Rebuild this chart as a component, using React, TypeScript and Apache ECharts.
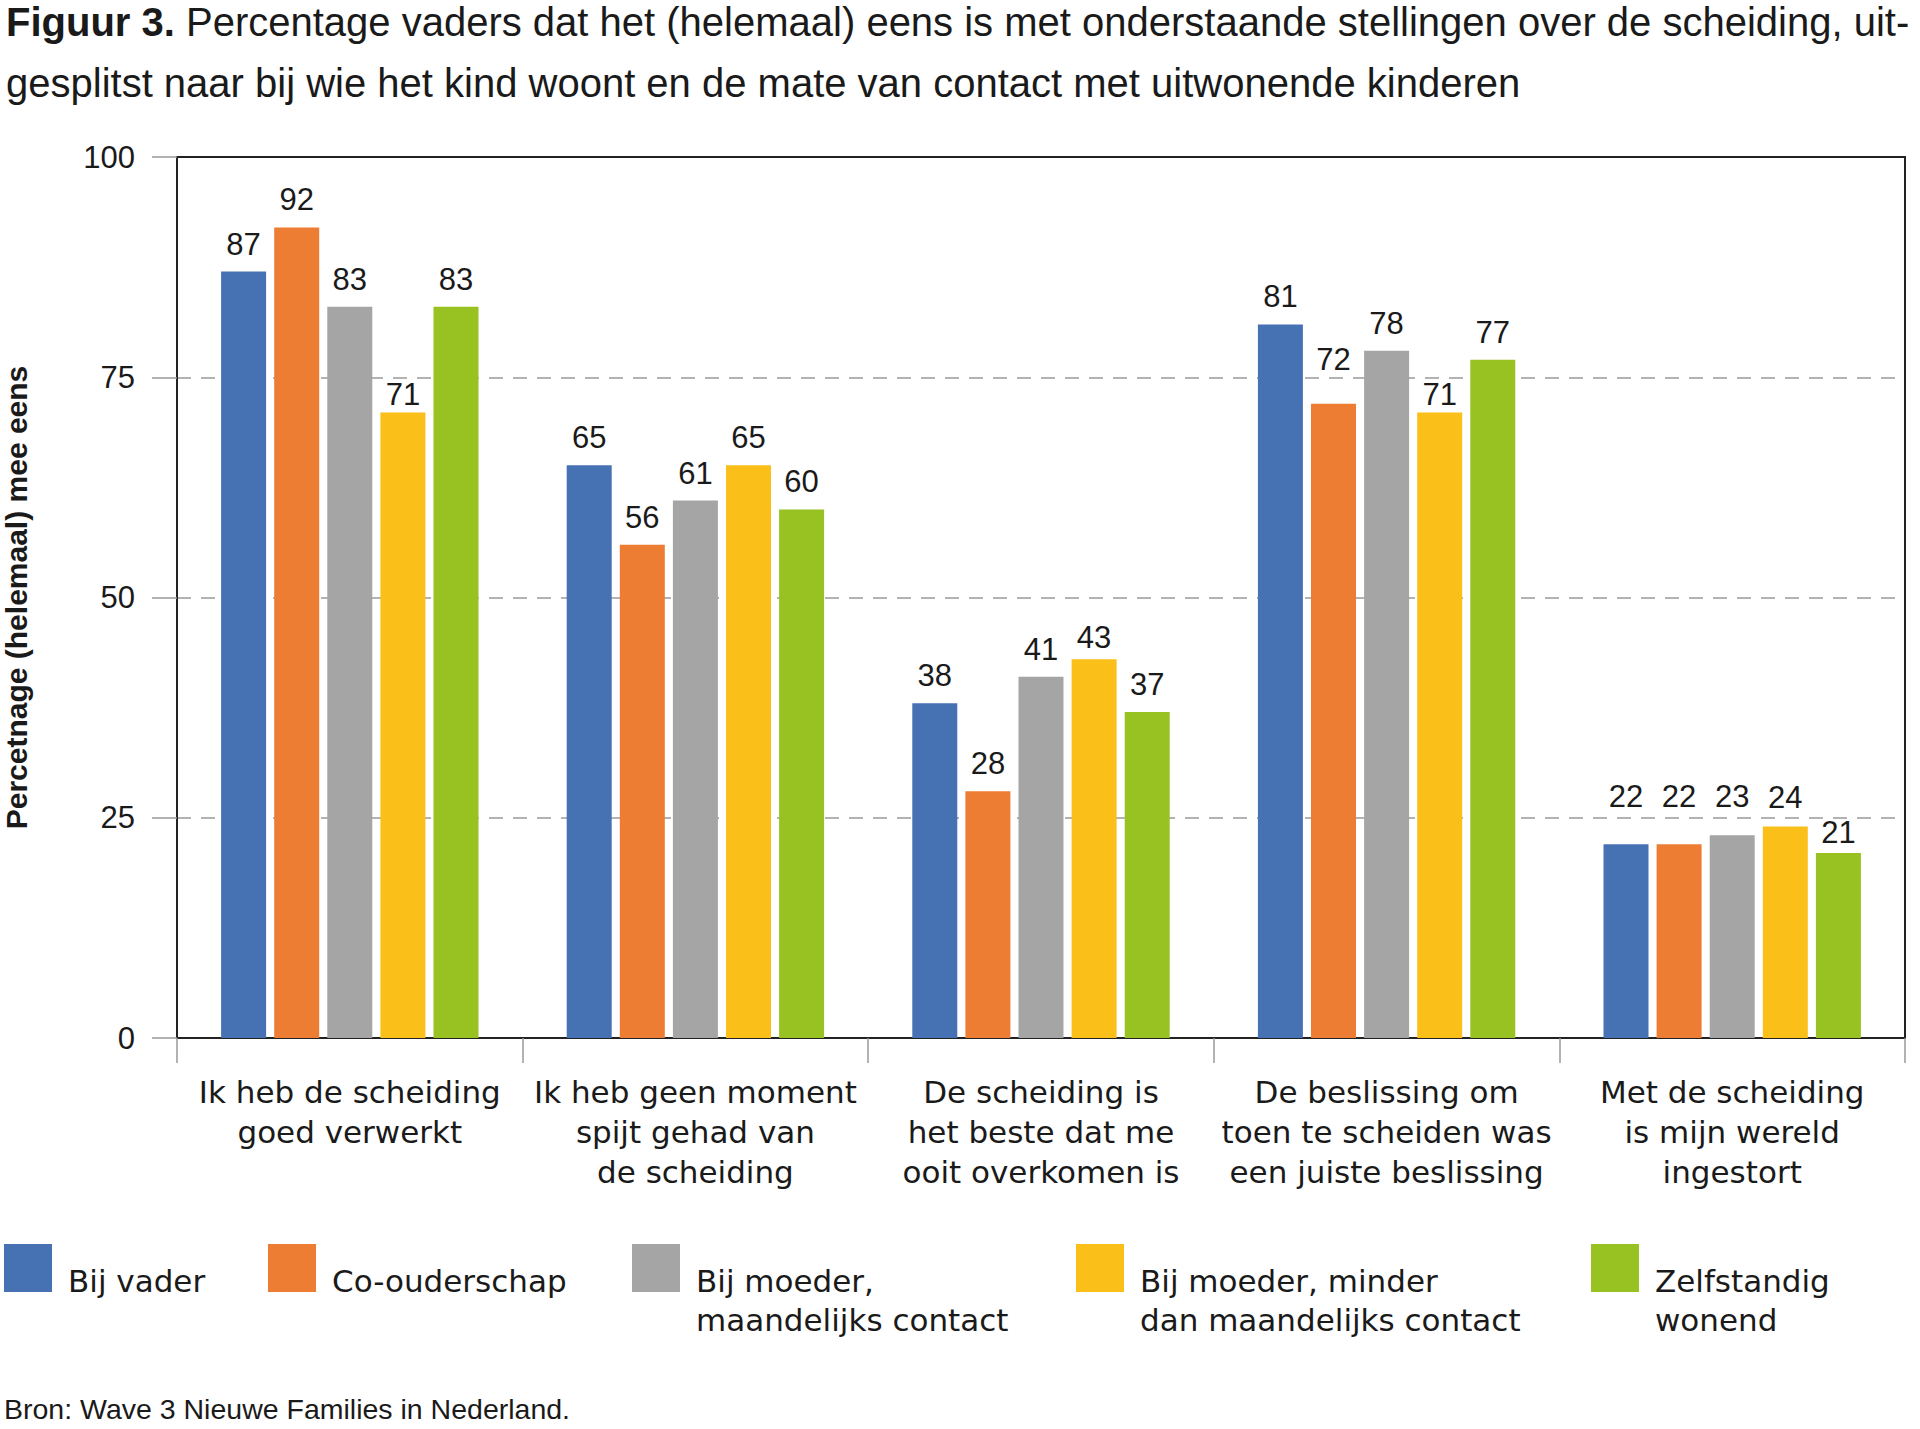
import React, { useEffect, useRef } from "react";
import * as echarts from "echarts";

const categories = [
  "Ik heb de scheiding\ngoed verwerkt",
  "Ik heb geen moment\nspijt gehad van\nde scheiding",
  "De scheiding is\nhet beste dat me\nooit overkomen is",
  "De beslissing om\ntoen te scheiden was\neen juiste beslissing",
  "Met de scheiding\nis mijn wereld\ningestort",
];

const seriesNames = [
  "Bij vader",
  "Co-ouderschap",
  "Bij moeder, maandelijks contact",
  "Bij moeder, minder dan maandelijks contact",
  "Zelfstandig wonend",
];

const legendLabels = [
  "Bij vader",
  "Co-ouderschap",
  "Bij moeder,\nmaandelijks contact",
  "Bij moeder, minder\ndan maandelijks contact",
  "Zelfstandig\nwonend",
];

const bijVader = [87, 65, 38, 81, 22];
const coOuderschap = [92, 56, 28, 72, 22];
const bijMoederMaandelijks = [83, 61, 41, 78, 23];
const bijMoederMinder = [71, 65, 43, 71, 24];
const zelfstandig = [83, 60, 37, 77, 21];

const seriesValues = [bijVader, coOuderschap, bijMoederMaandelijks, bijMoederMinder, zelfstandig];
const colors = ["#4672B4", "#ED7D32", "#A5A5A5", "#FBBF19", "#98C221"];

// small vertical nudges of value labels (px) as placed in the original figure
const labelShifts = [
  [0, 0, 0, 0, -20],
  [0, 0, 0, -17, -20],
  [0, 0, 0, 0, -11],
  [10, 0, 6, 10, -2],
  [0, 0, 0, 0, 7],
];

const yTicks = [0, 25, 50, 75, 100];

const titleBold = "Figuur 3.";
const titleLine1 = " Percentage vaders dat het (helemaal) eens is met onderstaande stellingen over de scheiding, uit-";
const titleLine2 = "gesplitst naar bij wie het kind woont en de mate van contact met uitwonende kinderen";
const yAxisName = "Percetnage (helemaal) mee eens";
const sourceText = "Bron: Wave 3 Nieuwe Families in Nederland.";

const legendLeft = [4, 268, 632, 1076, 1591];

export default function App() {
  const ref = useRef<HTMLDivElement>(null);
  useEffect(() => {
    if (!ref.current) return;
    const chart = echarts.init(ref.current, undefined, { renderer: "svg" });
    const textColor = "#1a1a1a";
    const legends = seriesNames.map((name, i) => {
      const twoLine = legendLabels[i].includes("\n");
      const H = twoLine ? 113 : 74;
      const W = 59;
      return {
        data: [name],
        left: legendLeft[i],
        top: 1244,
        padding: 0,
        itemWidth: W,
        itemHeight: H,
        icon: `path://M0,0H48V48H0Z M${W - 0.01},${H - 0.01}H${W}V${H}H${W - 0.01}Z`,
        selectedMode: false,
        formatter: () => legendLabels[i],
        textStyle: {
          fontFamily: "DejaVu Sans",
          fontSize: 31,
          lineHeight: 39,
          color: textColor,
        },
      };
    });
    const option: any = {
      animation: false,
      backgroundColor: "#ffffff",
      title: [
        {
          left: 6,
          top: -9,
          padding: 0,
          text: `{b|${titleBold}}{r|${titleLine1}}\n{r|${titleLine2}}`,
          textStyle: {
            rich: {
              b: { fontFamily: "Liberation Sans", fontWeight: "bold", fontSize: 40, lineHeight: 61, color: textColor },
              r: { fontFamily: "Liberation Sans", fontWeight: "normal", fontSize: 40, lineHeight: 61, color: textColor },
            },
          },
        },
        {
          left: 4,
          top: 1394,
          padding: 0,
          text: sourceText,
          textStyle: { fontFamily: "Liberation Sans", fontWeight: "normal", fontSize: 28.5, color: textColor },
        },
      ],
      legend: legends,
      grid: { left: 177, right: 15, top: 157, bottom: 391, containLabel: false, outerBoundsMode: "none" },
      xAxis: [
        {
          type: "category",
          data: categories,
          axisLine: { show: true, onZero: false, lineStyle: { color: "#222", width: 2 } },
          axisTick: { show: true, inside: false, length: 25, alignWithLabel: false, lineStyle: { color: "#999", width: 1.5 } },
          axisLabel: {
            interval: 0,
            margin: 34,
            fontFamily: "DejaVu Sans",
            fontSize: 31,
            lineHeight: 40,
            color: textColor,
            align: "center",
          },
        },
        {
          type: "category",
          position: "top",
          data: categories,
          axisLine: { show: true, onZero: false, lineStyle: { color: "#222", width: 2 } },
          axisTick: { show: false },
          axisLabel: { show: false },
        },
      ],
      yAxis: [
        {
          type: "value",
          min: yTicks[0],
          max: yTicks[yTicks.length - 1],
          interval: 25,
          name: yAxisName,
          nameLocation: "middle",
          nameGap: 146,
          nameTextStyle: { fontFamily: "Liberation Sans", fontWeight: "bold", fontSize: 30, color: textColor },
          axisLine: { show: true, onZero: false, lineStyle: { color: "#222", width: 2 } },
          axisTick: { show: true, inside: false, length: 25, lineStyle: { color: "#999", width: 1.5 } },
          axisLabel: { margin: 42, fontFamily: "Liberation Sans", fontSize: 31, color: textColor },
          splitLine: {
            show: true,
            lineStyle: { type: [14, 10], width: 1.5, color: ["transparent", "#9a9a9a", "#9a9a9a", "#9a9a9a", "transparent"] },
          },
        },
        {
          type: "value",
          position: "right",
          min: yTicks[0],
          max: yTicks[yTicks.length - 1],
          interval: 25,
          axisLine: { show: true, onZero: false, lineStyle: { color: "#222", width: 2 } },
          axisTick: { show: false },
          axisLabel: { show: false },
          splitLine: { show: false },
        },
      ],
      series: seriesNames.map((name, i) => ({
        type: "bar",
        name,
        data: seriesValues[i].map((v, j) => ({
          value: v,
          label: { offset: [0, labelShifts[i][j]] },
        })),
        xAxisIndex: 0,
        yAxisIndex: 0,
        barWidth: 45,
        barGap: "18%",
        itemStyle: { color: colors[i] },
        label: {
          show: true,
          position: "top",
          distance: 12,
          fontFamily: "Liberation Sans",
          fontSize: 31,
          color: textColor,
        },
      })),
    };
    chart.setOption(option);
    return () => chart.dispose();
  }, []);
  return (
    <div
      ref={ref}
      style={{ position: "absolute", left: 0, top: 0, width: 1920, height: 1429, background: "#fff" }}
    />
  );
}
